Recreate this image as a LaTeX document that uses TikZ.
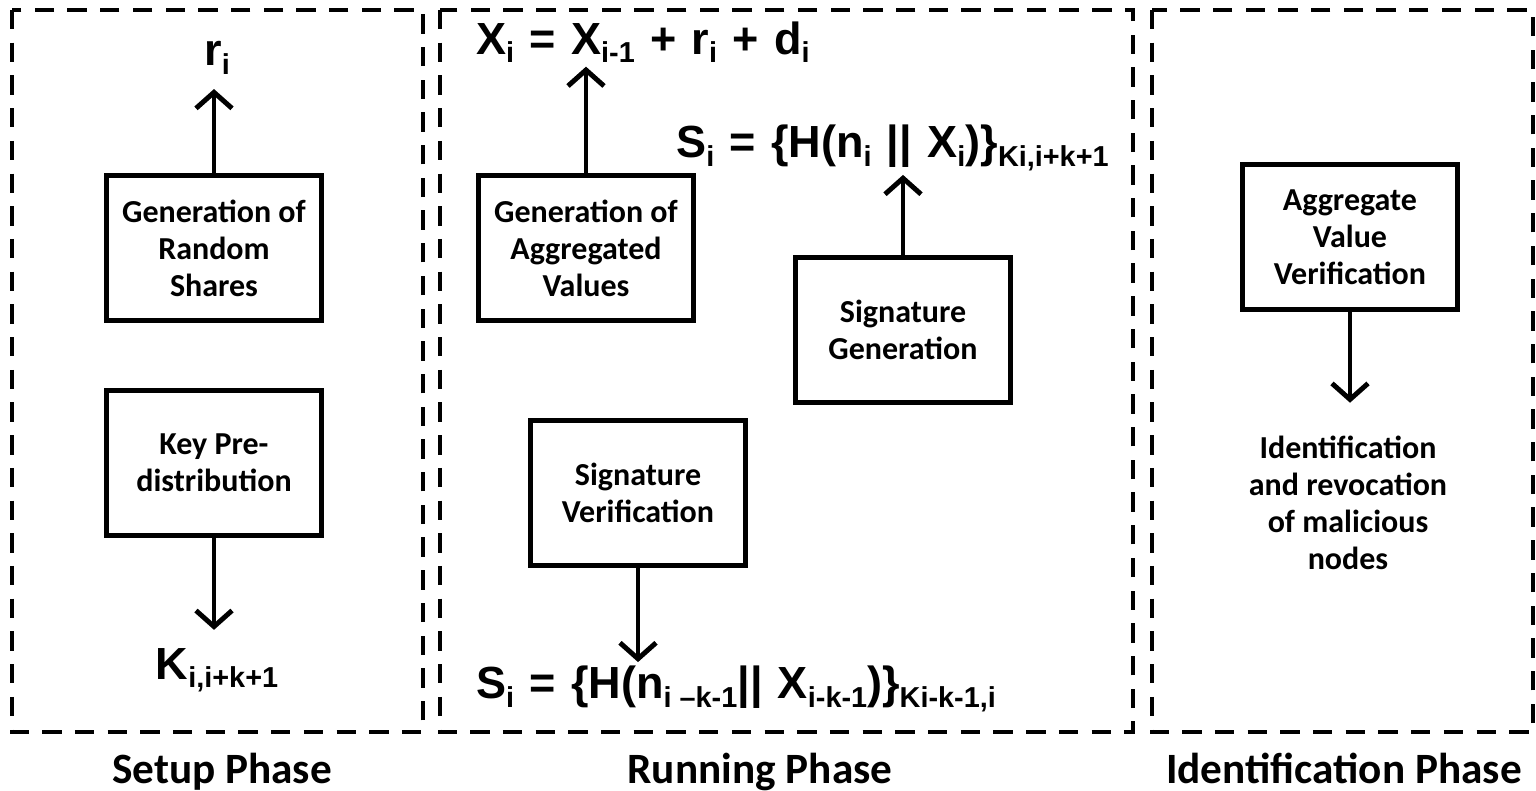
\documentclass[tikz,border=0pt]{standalone}
\usepackage{fontspec}
\setmainfont{Carlito}
\newfontfamily\eqfont{Liberation Sans}
\usetikzlibrary{arrows.meta}
\newcommand{\lo}[1]{\raisebox{-0.35ex}{\fontsize{8.2}{9}\selectfont\spaceskip=0pt\relax #1}}
\newcommand{\eqstyle}{\eqfont\bfseries\fontsize{12.8}{14}\selectfont\spaceskip=0.34em\relax}

\begin{document}
\begin{tikzpicture}[x=0.01cm, y=-0.01cm,
    phase/.style={draw, line width=1pt, dash pattern=on 5.5pt off 3.8pt},
    block/.style={draw, line width=1.4pt, minimum width=2.15cm, minimum height=1.45cm,
        align=center, font=\fontsize{9.1}{10.5}\selectfont\bfseries},
    note/.style={align=center, font=\fontsize{9.1}{10.5}\selectfont\bfseries},
    eqn/.style={font=\eqstyle, inner sep=1pt},
    caption/.style={font=\fontsize{12.3}{14}\selectfont\bfseries, anchor=base},
    flow/.style={line width=1.4pt, -{Straight Barb[length=1.6mm, width=3.6mm]}}
]
    \useasboundingbox (0,0) rectangle (1536,791);
    % the three phases
    \draw[phase] (12,10) rectangle (423,732);
    \draw[phase] (440,10) rectangle (1133,732);
    \draw[phase] (1152,10) rectangle (1533,732);
    \node[caption] (setup) at (222,783) {Setup Phase};
    \node[caption] (running) at (760,783) {Running Phase};
    \node[caption] (ident) at (1344,783) {Identification Phase};

    % setup phase
    \node[block] (shares) at (214,248) {Generation of\\Random\\Shares};
    \node[block] (keys) at (214,463) {Key Pre-\\distribution};
    \node[eqn] (ri) at (217,58) {r\lo{i}};
    \node[eqn] (kval) at (217,670) {K\lo{i,i+k+1}};
    \draw[flow, shorten >=3pt] (shares.north) -- (ri.south -| shares.north);
    \draw[flow, shorten >=4pt] (keys.south) -- (kval.north -| keys.south);

    % running phase
    \node[block] (aggr) at (586,248) {Generation of\\Aggregated\\Values};
    \node[block] (sgen) at (903,330) {Signature\\Generation};
    \node[block] (sver) at (638,493) {Signature\\Verification};
    \node[eqn, anchor=west] (xval) at (472,42)
        {X\lo{i} = X\lo{i-1} + r\lo{i} + d\lo{i}};
    \node[eqn, anchor=west] (sig) at (672,148)
        {S\lo{i} = \{H(n\lo{i} || X\lo{i})\}\lo{Ki,i+k+1}};
    \node[eqn, anchor=west] (sigv) at (472,689)
        {S\lo{i} = \{H(n\lo{i –k-1}|| X\lo{i-k-1})\}\lo{Ki-k-1,i}};
    \draw[flow] (aggr.north) -- (aggr.north |- xval.south);
    \draw[flow] (sgen.north) -- (sgen.north |- sig.south);
    \draw[flow] (sver.south) -- (sver.south |- sigv.north);

    % identification phase
    \node[block] (check) at (1350,237) {Aggregate\\Value\\Verification};
    \node[note] (revoke) at (1348,503) {Identification\\and revocation\\of malicious\\nodes};
    \draw[flow, shorten >=6pt] (check.south) -- (revoke.north -| check.south);
\end{tikzpicture}
\end{document}
